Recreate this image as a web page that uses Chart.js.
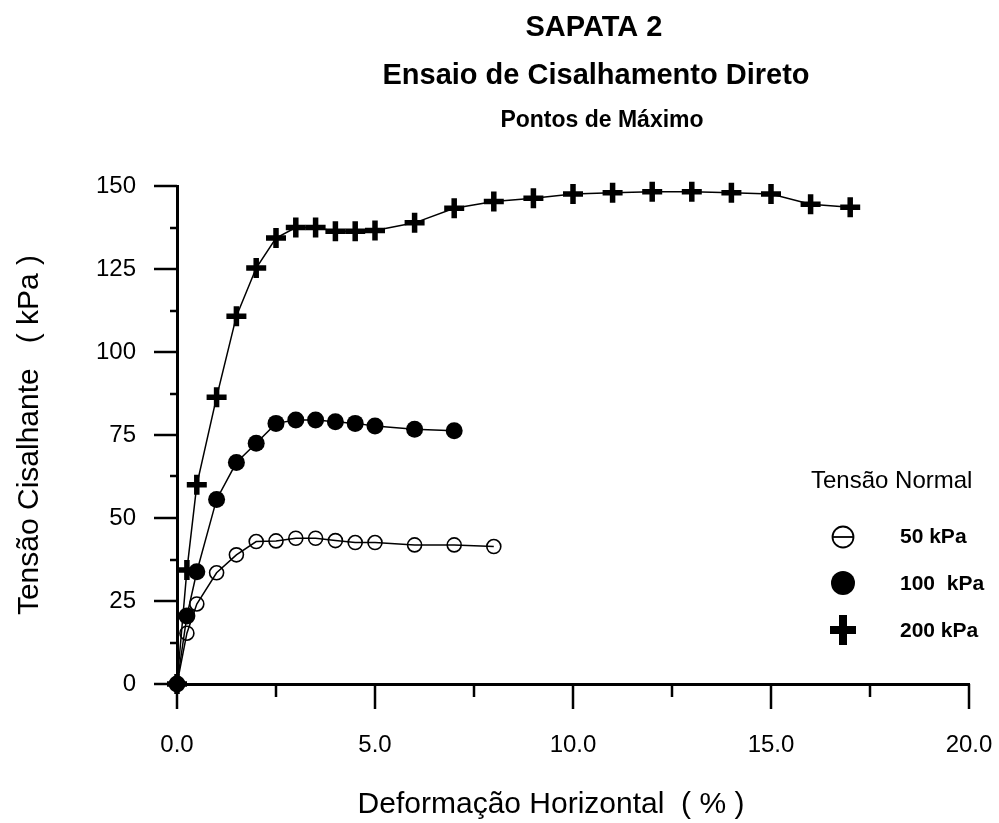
<!DOCTYPE html>
<html>
<head>
<meta charset="utf-8">
<script src="https://cdn.jsdelivr.net/npm/chart.js@4.4.1/dist/chart.umd.min.js"></script>
<style>
  html, body { margin: 0; padding: 0; background: #ffffff; }
  #wrap { width: 999px; height: 823px; }
</style>
</head>
<body>
<div id="wrap"><canvas id="c" width="999" height="823"></canvas></div>
<script>
// Deformação horizontal (%) e tensão cisalhante (kPa) para cada tensão normal
const deformacao50  = [0, 0.25, 0.5, 1, 1.5, 2, 2.5, 3, 3.5, 4, 4.5, 5, 6, 7, 8];
const tensao50      = [0, 15.3, 24.1, 33.5, 38.9, 42.9, 43.1, 43.9, 43.9, 43.2, 42.6, 42.6, 41.9, 41.9, 41.4];

const deformacao100 = [0, 0.25, 0.5, 1, 1.5, 2, 2.5, 3, 3.5, 4, 4.5, 5, 6, 7];
const tensao100     = [0, 20.5, 33.8, 55.6, 66.7, 72.5, 78.5, 79.5, 79.5, 79.0, 78.5, 77.7, 76.7, 76.3];

const deformacao200 = [0, 0.25, 0.5, 1, 1.5, 2, 2.5, 3, 3.5, 4, 4.5, 5, 6, 7, 8, 9, 10, 11, 12, 13, 14, 15, 16, 17];
const tensao200     = [0, 34.3, 60.0, 86.4, 110.8, 125.3, 134.3, 137.5, 137.5, 136.4, 136.4, 136.6, 138.9, 143.3, 145.3, 146.3, 147.6, 148.0, 148.3, 148.3, 148.0, 147.6, 144.5, 143.6];

const rotulosX = ['0.0', '5.0', '10.0', '15.0', '20.0'];
const rotulosY = ['0', '25', '50', '75', '100', '125', '150'];
const legendaSeries = ['50 kPa', '100  kPa', '200 kPa'];

const FONTE = 'Arial, "Liberation Sans", sans-serif';
Chart.defaults.font.family = FONTE;
Chart.defaults.color = '#000';

function pares(xs, ys) {
  return xs.map((x, i) => ({ x: x, y: ys[i] }));
}

// Títulos no topo e título do eixo horizontal
const titulos = {
  id: 'titulos',
  afterDraw(chart) {
    const ctx = chart.ctx;
    ctx.save();
    ctx.fillStyle = '#000';
    ctx.textAlign = 'center';
    ctx.textBaseline = 'middle';
    ctx.font = 'bold 29px ' + FONTE;
    ctx.fillText('SAPATA 2', 594, 28);
    ctx.fillText('Ensaio de Cisalhamento Direto', 596, 76);
    ctx.font = 'bold 23px ' + FONTE;
    ctx.fillText('Pontos de Máximo', 602, 121);
    ctx.font = '30px ' + FONTE;
    ctx.fillText('Deformação Horizontal  ( % )', 551, 805);
    ctx.restore();
  }
};

// Marcas de divisão dos eixos (maiores nos valores rotulados)
const marcas = {
  id: 'marcas',
  beforeDatasetsDraw(chart) {
    const ctx = chart.ctx;
    const sx = chart.scales.x, sy = chart.scales.y;
    const area = chart.chartArea;
    ctx.save();
    ctx.strokeStyle = '#000';
    ctx.lineWidth = 2.5;
    ctx.lineCap = 'butt';
    sy.ticks.forEach(t => {
      const py = Math.round(sy.getPixelForValue(t.value));
      const len = (t.value % 25 === 0) ? 23 : 7;
      ctx.beginPath();
      ctx.moveTo(area.left - len, py);
      ctx.lineTo(area.left, py);
      ctx.stroke();
    });
    sx.ticks.forEach(t => {
      const px = Math.round(sx.getPixelForValue(t.value));
      const len = (t.value % 5 === 0) ? 25 : 13;
      ctx.beginPath();
      ctx.moveTo(px, area.bottom);
      ctx.lineTo(px, area.bottom + len);
      ctx.stroke();
    });
    ctx.restore();
  }
};

// Legenda "Tensão Normal" dentro da área do gráfico
const legenda = {
  id: 'legenda',
  afterDraw(chart) {
    const ctx = chart.ctx;
    ctx.save();
    ctx.fillStyle = '#000';
    ctx.strokeStyle = '#000';
    ctx.textBaseline = 'middle';
    ctx.textAlign = 'left';
    ctx.font = '24px ' + FONTE;
    ctx.fillText('Tensão Normal', 811, 481);

    const sx = 843;
    // círculo aberto cortado pela linha
    ctx.lineWidth = 1.8;
    ctx.beginPath();
    ctx.arc(sx, 537, 10.5, 0, Math.PI * 2);
    ctx.stroke();
    ctx.beginPath();
    ctx.moveTo(sx - 10.5, 537);
    ctx.lineTo(sx + 10.5, 537);
    ctx.stroke();
    // círculo cheio
    ctx.beginPath();
    ctx.arc(sx, 583, 12, 0, Math.PI * 2);
    ctx.fill();
    // cruz
    ctx.fillRect(sx - 13, 630 - 4, 26, 8);
    ctx.fillRect(sx - 4, 630 - 15, 8, 30);

    ctx.font = 'bold 21px ' + FONTE;
    ctx.fillText(legendaSeries[0], 900, 537);
    ctx.fillText(legendaSeries[1], 900, 584);
    ctx.fillText(legendaSeries[2], 900, 631);
    ctx.restore();
  }
};

const conjuntoBase = {
  showLine: true,
  borderColor: '#000',
  borderWidth: 1.5,
  tension: 0,
  clip: false,
  pointBorderColor: '#000'
};

new Chart(document.getElementById('c'), {
  type: 'scatter',
  data: {
    datasets: [
      Object.assign({}, conjuntoBase, {
        label: legendaSeries[0],
        data: pares(deformacao50, tensao50),
        pointStyle: 'circle',
        pointRadius: 7,
        pointBorderWidth: 1.6,
        pointBackgroundColor: 'rgba(0,0,0,0)'
      }),
      Object.assign({}, conjuntoBase, {
        label: legendaSeries[1],
        data: pares(deformacao100, tensao100),
        pointStyle: 'circle',
        pointRadius: 8.5,
        pointBorderWidth: 0,
        pointBackgroundColor: '#000'
      }),
      Object.assign({}, conjuntoBase, {
        label: legendaSeries[2],
        data: pares(deformacao200, tensao200),
        pointStyle: 'cross',
        pointRadius: 10,
        pointBorderWidth: 5.5,
        pointBackgroundColor: '#000'
      })
    ]
  },
  options: {
    responsive: false,
    animation: false,
    events: [],
    layout: { padding: { top: 186, right: 30, bottom: 0, left: 0 } },
    plugins: {
      legend: { display: false },
      title: { display: false },
      tooltip: { enabled: false }
    },
    scales: {
      x: {
        type: 'linear',
        min: 0,
        max: 20,
        grid: { display: true, drawOnChartArea: false, drawTicks: false },
        border: { display: true, color: '#000', width: 3 },
        ticks: {
          stepSize: 2.5,
          autoSkip: false,
          maxRotation: 0,
          padding: 47,
          font: { size: 24 },
          color: '#000',
          callback: v => (v % 5 === 0 ? rotulosX[v / 5] : '')
        },
        title: { display: false },
        afterFit: s => { s.height = 139; s.paddingLeft = 0; s.paddingRight = 0; }
      },
      y: {
        type: 'linear',
        min: 0,
        max: 150,
        grid: { display: true, drawOnChartArea: false, drawTicks: false },
        border: { display: true, color: '#000', width: 3 },
        ticks: {
          stepSize: 12.5,
          autoSkip: false,
          padding: 41,
          font: { size: 24 },
          color: '#000',
          callback: v => (v % 25 === 0 ? rotulosY[v / 25] : '')
        },
        title: {
          display: true,
          text: 'Tensão Cisalhante   ( kPa )',
          font: { size: 30 },
          color: '#000',
          padding: { top: 12, bottom: 0 }
        },
        afterFit: s => { s.width = 177; s.paddingTop = 0; s.paddingBottom = 0; }
      }
    }
  },
  plugins: [marcas, titulos, legenda]
});
</script>
</body>
</html>
